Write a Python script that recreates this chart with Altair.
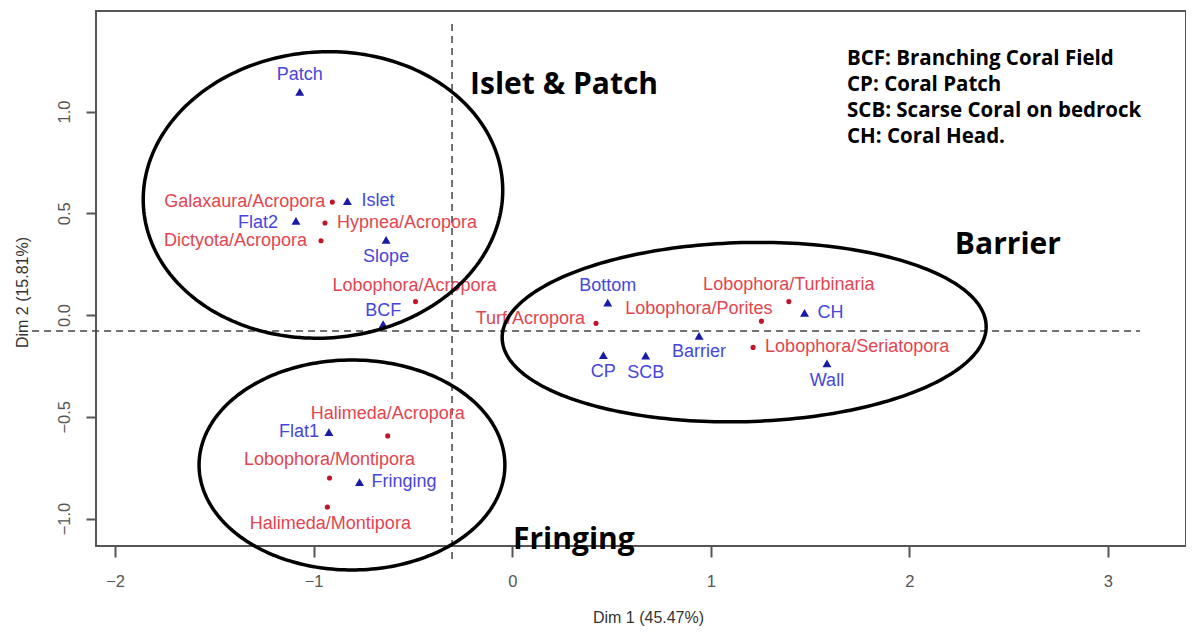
import altair as alt
import numpy as np
import pandas as pd

# ---------------- data ----------------
site_names = ["Patch", "Islet", "Flat2", "Slope", "BCF", "Bottom", "CP", "SCB",
              "Barrier", "CH", "Wall", "Flat1", "Fringing"]
site_x = [-1.070, -0.830, -1.089, -0.635, -0.650, 0.481, 0.459, 0.672,
          0.941, 1.472, 1.585, -0.923, -0.769]
site_y = [1.097, 0.560, 0.463, 0.369, -0.045, 0.061, -0.197, -0.200,
          -0.103, 0.011, -0.238, -0.575, -0.821]

assem_names = ["Galaxaura/Acropora", "Hypnea/Acropora", "Dictyota/Acropora",
               "Lobophora/Acropora", "Turf/Acropora", "Lobophora/Porites",
               "Lobophora/Turbinaria", "Lobophora/Seriatopora",
               "Halimeda/Acropora", "Lobophora/Montipora", "Halimeda/Montipora"]
assem_x = [-0.906, -0.943, -0.963, -0.487, 0.422, 1.255, 1.393, 1.213,
           -0.627, -0.920, -0.931]
assem_y = [0.555, 0.452, 0.365, 0.066, -0.041, -0.030, 0.066, -0.159,
           -0.594, -0.801, -0.944]

x_ticks = [-2, -1, 0, 1, 2, 3]
y_ticks = [-1.0, -0.5, 0.0, 0.5, 1.0]
x_title = "Dim 1 (45.47%)"
y_title = "Dim 2 (15.81%)"
origin_x = -0.303   # vertical dashed reference line
origin_y = -0.079   # horizontal dashed reference line

group_names = ["Islet & Patch", "Barrier", "Fringing"]
group_x = [-0.212, 2.229, 0.004]
group_y = [1.130, 0.344, -1.106]

legend_lines = ["BCF: Branching Coral Field", "CP: Coral Patch",
                "SCB: Scarse Coral on bedrock", "CH: Coral Head."]
legend_x = 1.686
legend_y = [1.258, 1.130, 1.002, 0.875]

# ellipses: centre x, centre y, radius x, radius y (data units), tilt (deg)
ell_names = ["Islet & Patch", "Barrier", "Fringing"]
ell_cx = [-0.953, 1.168, -0.807]
ell_cy = [0.590, -0.084, -0.737]
ell_rx = [0.906, 1.219, 0.770]
ell_ry = [0.703, 0.440, 0.516]
ell_tilt = [4.0, 1.5, 0.0]

# ---------------- layout / style ----------------
W, H = 1090, 535
X_DOM = [-2.096, 3.393]
Y_DOM = [-1.135, 1.494]
SX = W / (X_DOM[1] - X_DOM[0])
SY = H / (Y_DOM[1] - Y_DOM[0])

BLUE_TXT, BLUE_PT = "#4646dc", "#1a1aa8"
RED_TXT, RED_PT = "#e2454f", "#c0142a"
LABEL_FONT = "Liberation Sans"

# label placement: (align, dx px, dy px)
site_lab = [("center", 0, -17), ("left", 14, 0), ("right", -18, 2),
            ("center", 0, 17), ("center", 0, -13), ("center", 0, -17),
            ("center", 0, 17), ("center", 0, 17), ("center", 0, 16),
            ("left", 13, 0), ("center", 0, 18), ("right", -10, 0),
            ("left", 12, 0)]
assem_lab = [("right", -7, 0), ("left", 12, 0), ("right", -14, 0),
             ("center", -1, -16), ("right", -11, -4), ("right", 11, -12),
             ("center", 0, -17), ("left", 12, 0), ("center", 0, -22),
             ("center", 0, -18), ("center", 3, 17)]

rows = []
for n, x, y, (al, dx, dy) in zip(site_names, site_x, site_y, site_lab):
    rows.append(dict(name=n, x=x, y=y, kind="site", align=al,
                     lx=x + dx / SX, ly=y - dy / SY))
for n, x, y, (al, dx, dy) in zip(assem_names, assem_x, assem_y, assem_lab):
    rows.append(dict(name=n, x=x, y=y, kind="assem", align=al,
                     lx=x + dx / SX, ly=y - dy / SY))
pts = pd.DataFrame(rows)

# ellipse outlines
t = np.linspace(0, 2 * np.pi, 241)
erows = []
for g, cx, cy, rx, ry, a in zip(ell_names, ell_cx, ell_cy, ell_rx, ell_ry, ell_tilt):
    ar = np.deg2rad(a)
    ex = rx * SX * np.cos(t)
    ey = ry * SY * np.sin(t)
    px = ex * np.cos(ar) - ey * np.sin(ar)
    py = ex * np.sin(ar) + ey * np.cos(ar)
    for i in range(len(t)):
        erows.append(dict(g=g, i=i, x=cx + px[i] / SX, y=cy + py[i] / SY))
ell = pd.DataFrame(erows)

xs = alt.Scale(domain=X_DOM, nice=False, zero=False)
ys = alt.Scale(domain=Y_DOM, nice=False, zero=False)
x_axis = alt.Axis(values=x_ticks, title=x_title, grid=False, domain=False,
                  tickSize=11, tickColor="#555", tickWidth=2,
                  labelFont=LABEL_FONT, labelFontSize=16.5, labelColor="#555",
                  labelBaseline="middle", labelPadding=24, format="d",
                  titleFont=LABEL_FONT, titleFontSize=16, titleFontWeight="normal",
                  titleColor="#333", titleBaseline="middle", titleY=71, titleX=552)
y_axis = alt.Axis(values=y_ticks, title=y_title, grid=False, domain=False,
                  tickSize=10, tickColor="#555", tickWidth=2,
                  labelFont=LABEL_FONT, labelFontSize=16.5, labelColor="#555",
                  labelAngle=270, labelAlign="center", labelBaseline="middle",
                  labelPadding=22, format=".1f",
                  titleFont=LABEL_FONT, titleFontSize=16, titleFontWeight="normal",
                  titleColor="#333", titleAngle=270, titleBaseline="middle",
                  titleAlign="center", titleX=-74, titleY=281)


def X(f):
    return alt.X(f, type="quantitative", scale=xs, axis=x_axis)


def Y(f):
    return alt.Y(f, type="quantitative", scale=ys, axis=y_axis)


base = alt.Chart(pts)

ell_layer = alt.Chart(ell).mark_line(color="black", strokeWidth=3.5).encode(
    x=X("x"), y=Y("y"), detail="g:N", order="i:Q")

vline = alt.Chart(pd.DataFrame({"x": [origin_x], "y": [1.43], "y2": [-1.215]})).mark_rule(
    color="#444", strokeDash=[7, 5], strokeWidth=1.5).encode(
    x=X("x"), y=Y("y"), y2="y2:Q")
hline = alt.Chart(pd.DataFrame({"x": [-2.418], "x2": [3.161], "y": [origin_y]})).mark_rule(
    color="#444", strokeDash=[7, 5], strokeWidth=1.5).encode(
    x=X("x"), x2="x2:Q", y=Y("y"))

tri = base.transform_filter(alt.datum.kind == "site").mark_point(
    shape="triangle-up", filled=True, size=80, color=BLUE_PT, opacity=1).encode(
    x=X("x"), y=Y("y"))
dot = base.transform_filter(alt.datum.kind == "assem").mark_point(
    shape="circle", filled=True, size=26, color=RED_PT, opacity=1).encode(
    x=X("x"), y=Y("y"))

color_scale = alt.Scale(domain=["site", "assem"], range=[BLUE_TXT, RED_TXT])
label_layers = []
for al in ["left", "right", "center"]:
    label_layers.append(
        base.transform_filter(alt.datum.align == al).mark_text(
            align=al, baseline="middle", font=LABEL_FONT, fontSize=18).encode(
            x=X("lx"), y=Y("ly"), text="name:N",
            color=alt.Color("kind:N", scale=color_scale, legend=None)))

groups = alt.Chart(pd.DataFrame({"t": group_names, "x": group_x, "y": group_y})).mark_text(
    align="left", baseline="middle", font="Open Sans", fontWeight="bold",
    fontSize=30, color="black").encode(x=X("x"), y=Y("y"), text="t:N")

legend = alt.Chart(pd.DataFrame({"t": legend_lines, "x": [legend_x] * 4, "y": legend_y})).mark_text(
    align="left", baseline="middle", font="Open Sans", fontWeight="bold",
    fontSize=20.5, color="black").encode(x=X("x"), y=Y("y"), text="t:N")

chart = alt.layer(vline, hline, tri, dot, *label_layers, ell_layer, groups, legend).properties(
    width=W, height=H,
    padding={"left": 88, "top": 3, "right": 0, "bottom": 80},
    autosize=alt.AutoSizeParams(type="none"),
).configure(background="white").configure_view(stroke="#555", strokeWidth=2)

chart.save("out.html", embed_options={"renderer": "svg", "actions": False})
